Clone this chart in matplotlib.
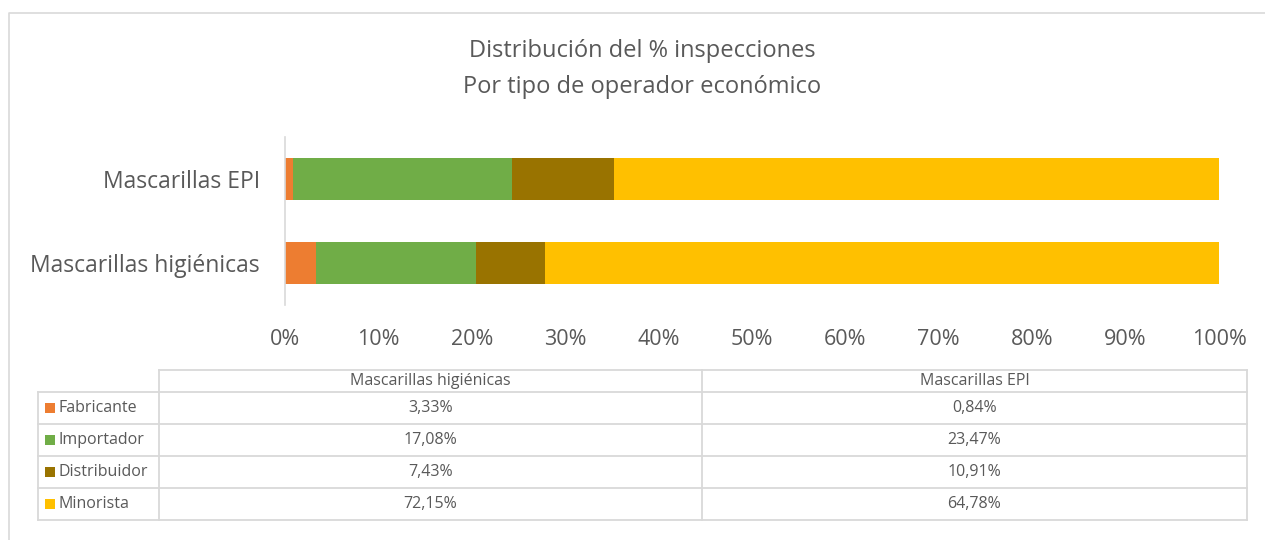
import matplotlib
matplotlib.use("Agg")
import matplotlib.pyplot as plt

categories = ["Mascarillas higiénicas", "Mascarillas EPI"]
series_names = ["Fabricante", "Importador", "Distribuidor", "Minorista"]
values = {
    "Fabricante": [3.33, 0.84],
    "Importador": [17.08, 23.47],
    "Distribuidor": [7.43, 10.91],
    "Minorista": [72.15, 64.78],
}
colors = ["#ED7D31", "#70AD47", "#997300", "#FFC000"]
xticks = [0, 10, 20, 30, 40, 50, 60, 70, 80, 90, 100]
title_lines = ["Distribución del % inspecciones", "Por tipo de operador económico"]

W, H = 1265, 540
plt.rcParams['font.family'] = ['Open Sans', 'DejaVu Sans']
txt = "#595959"
grid = "#D9D9D9"

fig = plt.figure(figsize=(W / 100, H / 100), dpi=100)

# overlay for border, title and table (pixel coords)
ov = fig.add_axes([0, 0, 1, 1])
ov.set_xlim(0, W)
ov.set_ylim(H, 0)
ov.axis("off")

# chart border
ov.plot([9, 9, W + 5], [H + 5, 13, 13], color=grid, lw=1.2)

ov.text(642, 51, title_lines[0], ha="center", va="center", fontsize=17, color=txt)
ov.text(642, 87, title_lines[1], ha="center", va="center", fontsize=17, color=txt)

# main bar axes
x0, x1 = 285, 1219
y_top, y_bot = 137, 305
ax = fig.add_axes([x0 / W, 1 - y_bot / H, (x1 - x0) / W, (y_bot - y_top) / H])
left = [0.0] * len(categories)
for name, c in zip(series_names, colors):
    ax.barh(categories, values[name], left=left, color=c, height=0.5)
    left = [l + v for l, v in zip(left, values[name])]
ax.set_xlim(0, 100)
ax.set_ylim(-0.5, 1.5)
ax.set_xticks(xticks)
ax.set_xticklabels([f"{t}%" for t in xticks])
ax.tick_params(axis="x", length=0, pad=17, labelsize=15.5, labelcolor=txt)
ax.tick_params(axis="y", length=0, pad=18, labelsize=16.5, labelcolor=txt)
for s in ["top", "right", "bottom"]:
    ax.spines[s].set_visible(False)
ax.spines["left"].set_color(grid)
ax.spines["left"].set_linewidth(1.2)

# data table
tx_left, tx_c1, tx_c2, tx_right = 38, 159, 702, 1247
row_y = [370, 392, 424, 456, 488, 520]
lw = 1.3
ov.plot([tx_c1, tx_right], [row_y[0], row_y[0]], color=grid, lw=lw)
for y in row_y[1:]:
    ov.plot([tx_left, tx_right], [y, y], color=grid, lw=lw)
ov.plot([tx_left, tx_left], [row_y[1], row_y[-1]], color=grid, lw=lw)
for x in [tx_c1, tx_c2, tx_right]:
    ov.plot([x, x], [row_y[0], row_y[-1]], color=grid, lw=lw)

col_centers = [(tx_c1 + tx_c2) / 2, (tx_c2 + tx_right) / 2]
for cx, cat in zip(col_centers, categories):
    ov.text(cx, (row_y[0] + row_y[1]) / 2, cat, ha="center", va="center", fontsize=11.5, color=txt)

for i, (name, c) in enumerate(zip(series_names, colors)):
    yc = (row_y[i + 1] + row_y[i + 2]) / 2
    ov.add_patch(plt.Rectangle((45, yc - 5), 10, 10, color=c, lw=0))
    ov.text(59, yc, name, ha="left", va="center", fontsize=11.5, color=txt)
    for cx, v in zip(col_centers, values[name]):
        ov.text(cx, yc, f"{v:.2f}%".replace(".", ","), ha="center", va="center", fontsize=11.5, color=txt)

fig.savefig("out.png", dpi=100)
